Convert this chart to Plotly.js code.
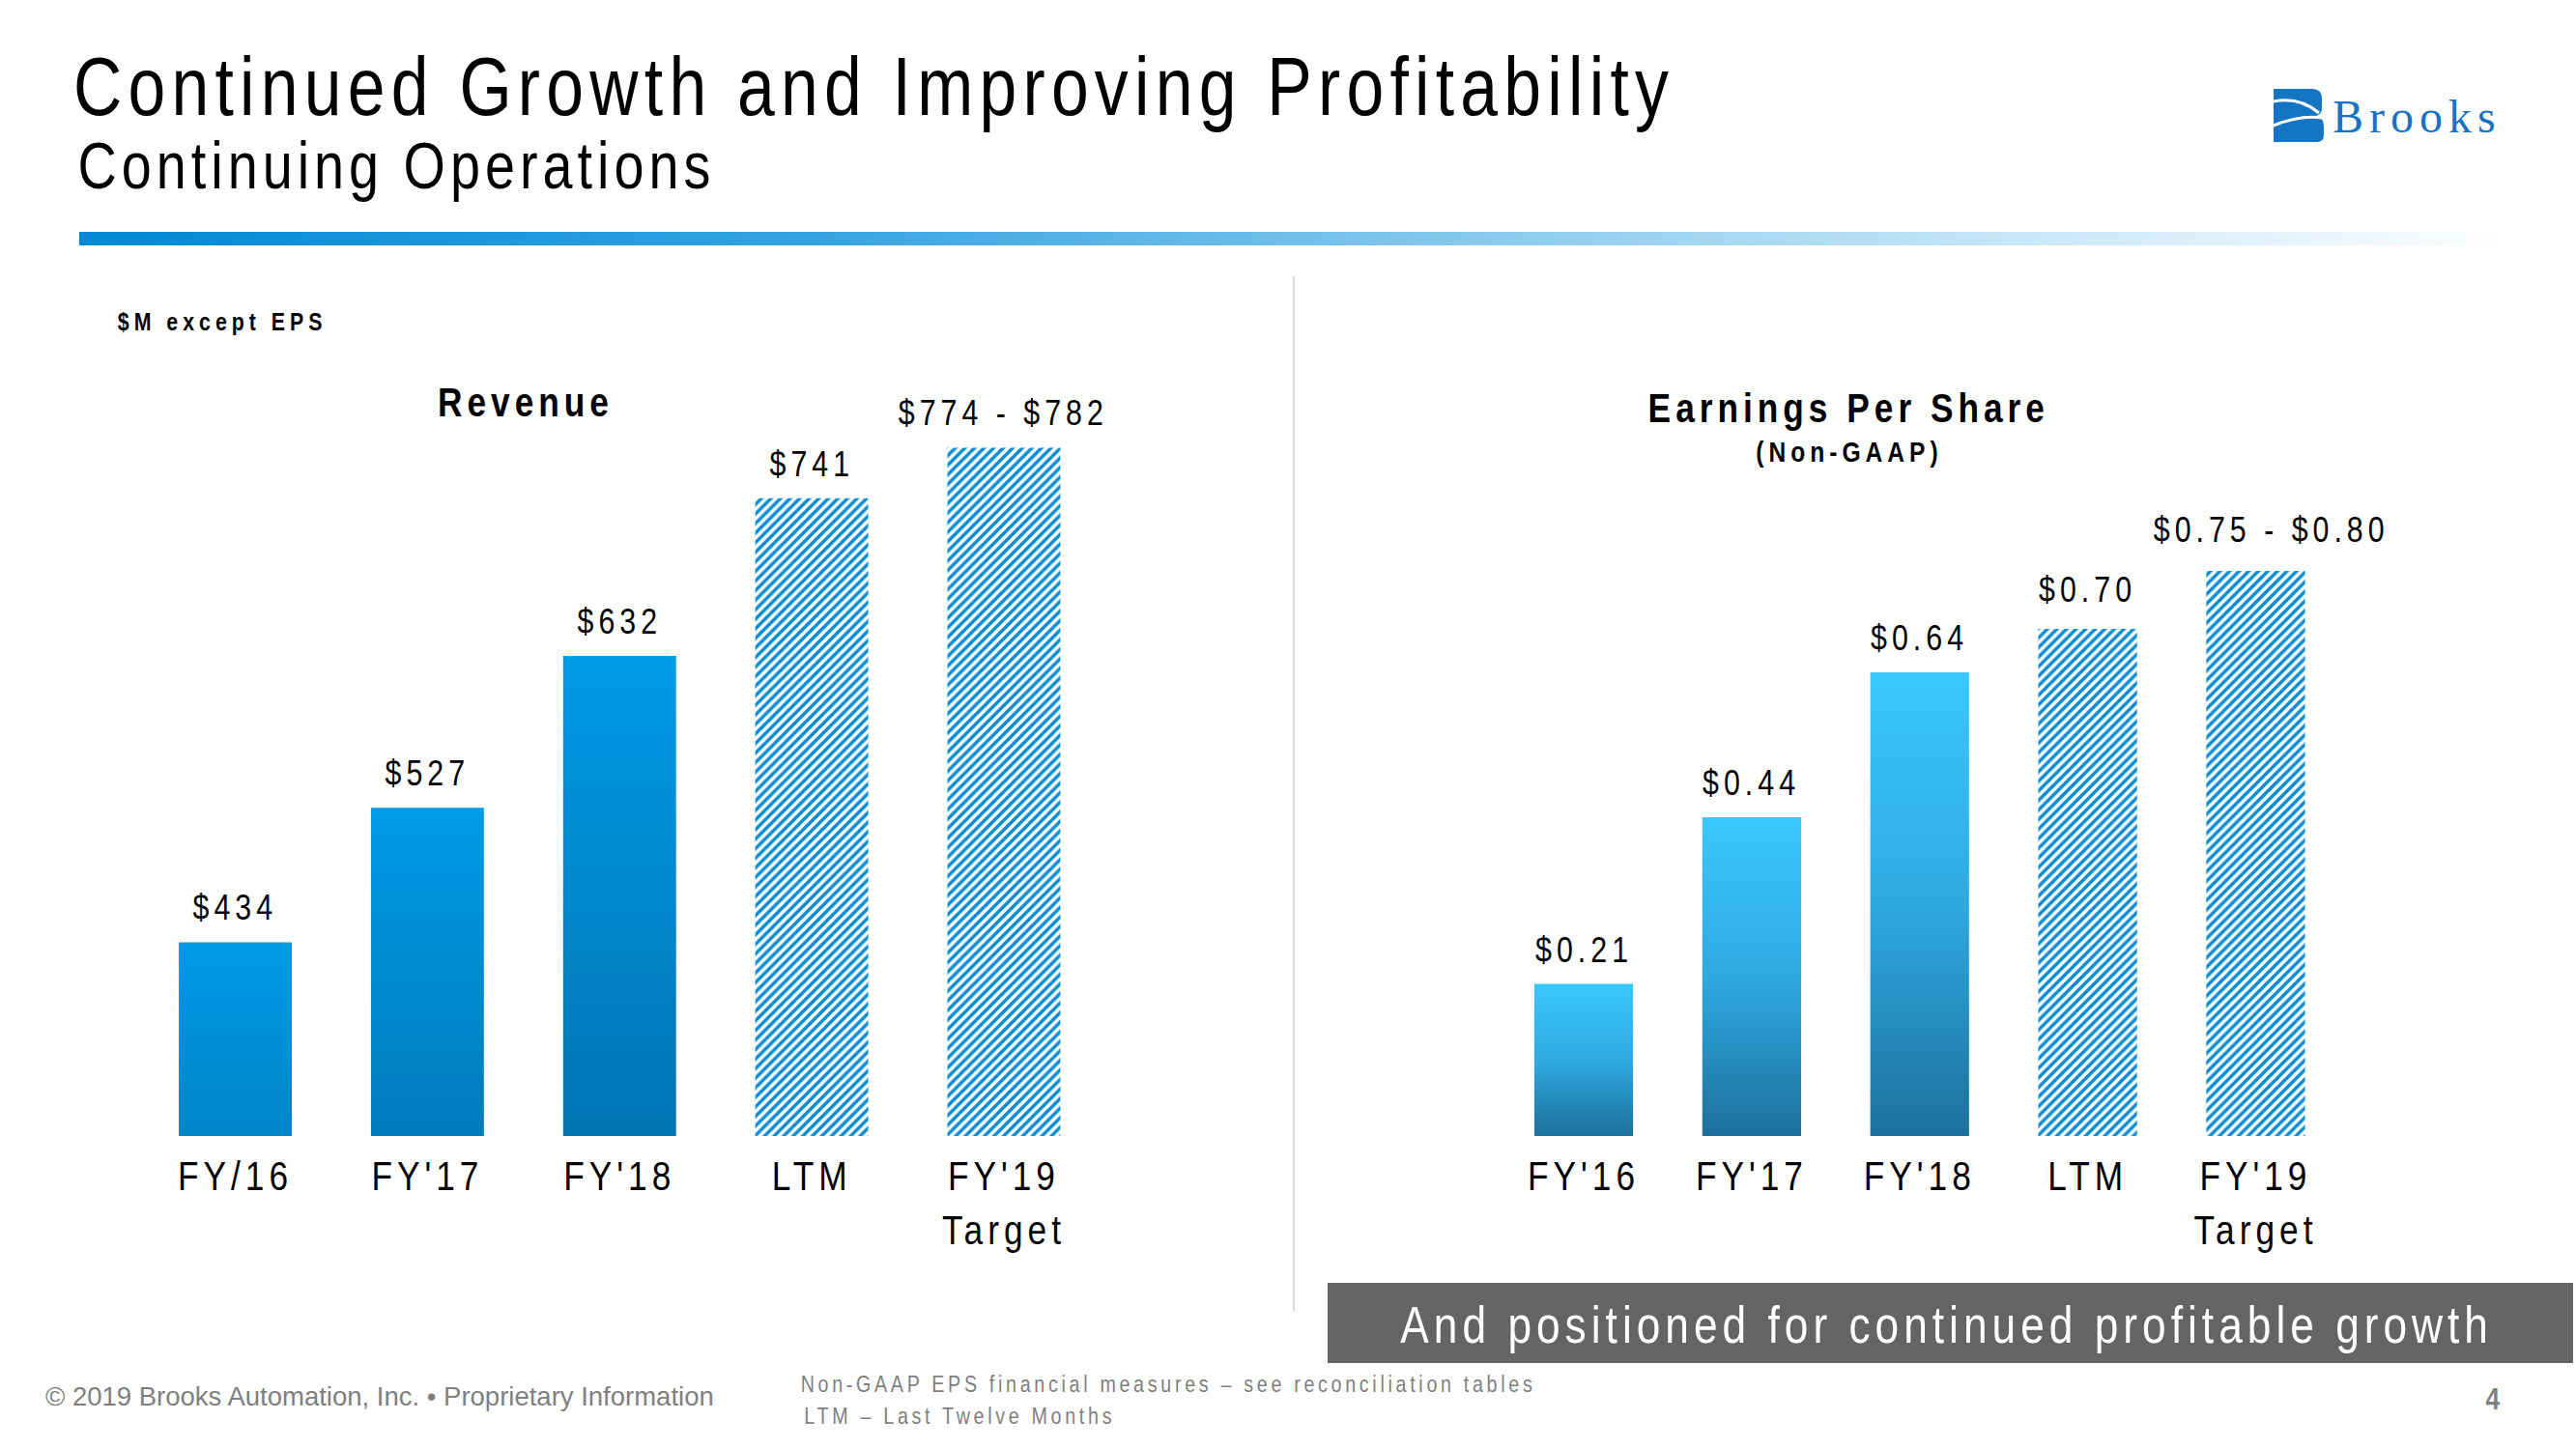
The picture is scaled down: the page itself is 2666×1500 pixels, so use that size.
<!DOCTYPE html>
<html>
<head>
<meta charset="utf-8">
<script src="https://cdn.plot.ly/plotly-3.0.1.min.js"></script>
<style>
  html, body { margin: 0; padding: 0; background: #ffffff; }
  #chart { width: 2666px; height: 1500px; }
</style>
</head>
<body>
<div id="chart"></div>
<script>
// ---------------- data ----------------
const revCats   = ['FY/16', "FY'17", "FY'18", 'LTM', "FY'19<br>Target"];
const revValues = [434, 527, 632, 741, 776];
const revLabels = ['$434', '$527', '$632', '$741', '$774 - $782'];

const epsCats   = ["FY'16", "FY'17", "FY'18", 'LTM', "FY'19<br>Target"];
const epsValues = [0.21, 0.44, 0.64, 0.70, 0.78];
const epsLabels = ['$0.21', '$0.44', '$0.64', '$0.70', '$0.75 - $0.80'];

const nActual = 3; // first three are reported years, the rest LTM / target (hatched)

// ---------------- layout constants (not data) ----------------
const epsLabelLift = [0, 0, 0, 5, 7];   // extra px above the bar for label
const epsLabelShift = [0, 0, 0, 0, 16]; // horizontal px offset for label

// ---------------- fonts ----------------
// "NarrowX" is a marker family name: the text falls back to Liberation Sans
// and is horizontally condensed after drawing (Arial Narrow look).
const FONT = "'Liberation Sans', NarrowX";
const REG = "'Liberation Sans'";
const SERIF = "'Liberation Serif'";
const K = 0.82;

const spacing = [[85, 7.6], [68, 6.1], [54, 6.1], [43, 6.1], [37, 6.1], [30, 6.1], [26, 6.1], [24, 4.5]];
let css = spacing.map(([s, l]) =>
  `text[style*="NarrowX"][style*="font-size: ${s}px"]{letter-spacing:${l}px;}`).join('\n');
css += '\ntext[style*="Serif"]{letter-spacing:6px;}';
const st = document.createElement('style'); st.textContent = css; document.head.appendChild(st);

// ---------------- geometry (page pixels) ----------------
const W = 2666, H = 1500;
const px = v => v / W;
const py = v => 1 - v / H;
const BASE = 1176;

// ---------------- traces ----------------
const hatch = { shape: '/', fgcolor: '#0A8CD2', bgcolor: '#FFFFFF', size: 7, solidity: 0.5 };

const traces = [
  { type: 'bar', x: revCats.slice(0, nActual), y: revValues.slice(0, nActual), xaxis: 'x', yaxis: 'y',
    marker: { color: '#0077B8', line: { width: 0 } }, hoverinfo: 'skip' },
  { type: 'bar', x: revCats.slice(nActual), y: revValues.slice(nActual), xaxis: 'x', yaxis: 'y',
    marker: { color: '#0A8CD2', pattern: hatch, line: { width: 0 } }, hoverinfo: 'skip' },
  { type: 'bar', x: epsCats.slice(0, nActual), y: epsValues.slice(0, nActual), xaxis: 'x2', yaxis: 'y2',
    marker: { color: '#2CA6DC', line: { width: 0 } }, hoverinfo: 'skip' },
  { type: 'bar', x: epsCats.slice(nActual), y: epsValues.slice(nActual), xaxis: 'x2', yaxis: 'y2',
    marker: { color: '#0A8CD2', pattern: hatch, line: { width: 0 } }, hoverinfo: 'skip' },
  { type: 'scatter', x: [], y: [], xaxis: 'x3', yaxis: 'y3', hoverinfo: 'skip' }
];

// ---------------- annotations ----------------
function txt(text, x, y, size, opts) {
  return Object.assign({
    xref: 'x3', yref: 'y3', x: x, y: y, text: text, showarrow: false,
    xanchor: 'center', yanchor: 'middle',
    font: { family: FONT, size: size, color: '#000000' }
  }, opts || {});
}

const annotations = [
  txt('Continued Growth and Improving Profitability', 904, 89.5, 85),
  txt('Continuing Operations', 410, 171, 68),
  txt('<b>$M except EPS</b>', 229.5, 333, 26),
  txt('<b>Revenue</b>', 544, 416, 43),
  txt('<b>Earnings Per Share</b>', 1913.5, 421.5, 43),
  txt('<b>(Non-GAAP)</b>', 1914, 467, 30),
  txt('And positioned for continued profitable growth', 2014, 1370.5, 54,
      { font: { family: FONT, size: 54, color: '#FFFFFF' } }),
  txt('© 2019 Brooks Automation, Inc. • Proprietary Information', 393, 1445, 27.5,
      { font: { family: REG, size: 27.5, color: '#7F7F7F' } }),
  txt('Non-GAAP EPS financial measures – see reconciliation tables', 1209, 1432, 24,
      { font: { family: FONT, size: 24, color: '#7F7F7F' } }),
  txt('LTM – Last Twelve Months', 993, 1465, 24,
      { font: { family: FONT, size: 24, color: '#7F7F7F' } }),
  txt('<b>4</b>', 2579.5, 1447.5, 32, { font: { family: FONT, size: 32, color: '#7F7F7F' } }),
  txt('Brooks', 2501, 120.5, 48, { font: { family: SERIF, size: 48, color: '#1A72C0' } })
];

revCats.forEach((c, i) => annotations.push({
  xref: 'x', yref: 'y', x: c, y: revValues[i], text: revLabels[i], showarrow: false,
  xanchor: 'center', yanchor: 'bottom', yshift: 13,
  font: { family: FONT, size: 37, color: '#000000' }
}));
epsCats.forEach((c, i) => annotations.push({
  xref: 'x2', yref: 'y2', x: c, y: epsValues[i], text: epsLabels[i], showarrow: false,
  xanchor: 'center', yanchor: 'bottom', yshift: 13 + epsLabelLift[i], xshift: epsLabelShift[i],
  font: { family: FONT, size: 37, color: '#000000' }
}));

// ---------------- shapes ----------------
const shapes = [
  { type: 'rect', xref: 'x3', yref: 'y3', x0: 82, x1: 2600, y0: 240, y1: 254,
    fillcolor: '#3FA6E0', line: { width: 0 } },
  { type: 'line', xref: 'x3', yref: 'y3', x0: 1339, x1: 1339, y0: 286, y1: 1357,
    line: { color: '#D9D9D9', width: 2 } },
  { type: 'rect', xref: 'x3', yref: 'y3', x0: 1374, x1: 2663, y0: 1328, y1: 1411,
    fillcolor: '#646464', line: { width: 0 } },
  { type: 'path', xref: 'x3', yref: 'y3',
    path: 'M 2353 92 L 2393 92 Q 2403 92 2403 102 L 2403 113 Q 2403 118 2397 120 Q 2405 122 2405 131 L 2405 140 Q 2405 147 2398 147 L 2353 147 Z',
    fillcolor: '#1475C4', line: { width: 0 } },
  { type: 'path', xref: 'x3', yref: 'y3', path: 'M 2353 105 Q 2380 100 2400 117',
    line: { color: '#FFFFFF', width: 3 } },
  { type: 'path', xref: 'x3', yref: 'y3', path: 'M 2353 130 Q 2380 119 2403 122',
    line: { color: '#FFFFFF', width: 3 } }
];

// ---------------- layout ----------------
const catAxis = (dom, anchor) => ({
  domain: dom, anchor: anchor, type: 'category', range: [-0.5, 4.5],
  showgrid: false, zeroline: false, showline: false, ticks: '', tickangle: 0,
  tickfont: { family: FONT, size: 43, color: '#000000' },
  ticklabelstandoff: 12, fixedrange: true
});

const layout = {
  width: W, height: H,
  margin: { l: 0, r: 0, t: 0, b: 0, pad: 0 },
  paper_bgcolor: '#FFFFFF', plot_bgcolor: 'rgba(0,0,0,0)',
  showlegend: false, hovermode: false,
  barmode: 'overlay', bargap: 0.412,
  xaxis: catAxis([px(144.1), px(1138.4)], 'y'),
  yaxis: { domain: [py(BASE), py(397.6)], range: [300, 820], visible: false, fixedrange: true },
  xaxis2: catAxis([px(1552.1), px(2421.4)], 'y2'),
  yaxis2: { domain: [py(BASE), py(426)], range: [0, 1], visible: false, fixedrange: true },
  xaxis3: { domain: [0, 1], range: [0, W], visible: false, anchor: 'y3', fixedrange: true },
  yaxis3: { domain: [0, 1], range: [H, 0], visible: false, anchor: 'x3', fixedrange: true },
  annotations: annotations,
  shapes: shapes
};

const gd = document.getElementById('chart');
Plotly.newPlot(gd, traces, layout, { staticPlot: true, displayModeBar: false, typesetMath: false })
.then(() => {
  const NS = 'http://www.w3.org/2000/svg';
  const svg = gd.querySelector('.main-svg');
  let defs = svg.querySelector('defs');
  if (!defs) { defs = document.createElementNS(NS, 'defs'); svg.insertBefore(defs, svg.firstChild); }
  function grad(id, stops, horizontal) {
    const g = document.createElementNS(NS, 'linearGradient');
    g.setAttribute('id', id);
    g.setAttribute('x1', '0'); g.setAttribute('y1', '0');
    g.setAttribute('x2', horizontal ? '1' : '0'); g.setAttribute('y2', horizontal ? '0' : '1');
    stops.forEach(([o, c]) => {
      const s = document.createElementNS(NS, 'stop');
      s.setAttribute('offset', o); s.setAttribute('stop-color', c);
      g.appendChild(s);
    });
    defs.appendChild(g);
  }
  grad('gRev', [[0, '#009AE6'], [0.5, '#0076B5'], [1, '#004E7C']]);
  grad('gEps', [[0, '#3AC8FD'], [0.5, '#2FA9E0'], [1, '#1D709C']]);
  grad('gRule', [[0, '#0088D4'], [0.3, '#35A3E0'], [0.68, '#A8D8F2'], [1, '#FFFFFF']], true);

  const revTrace = gd.querySelectorAll('.subplot.xy .barlayer .trace')[0];
  const epsTrace = gd.querySelectorAll('.subplot.x2y2 .barlayer .trace')[0];
  if (revTrace) revTrace.querySelectorAll('path').forEach(p => { p.style.fill = 'url(#gRev)'; });
  if (epsTrace) epsTrace.querySelectorAll('path').forEach(p => { p.style.fill = 'url(#gEps)'; });
  gd.querySelectorAll('.shapelayer path[data-index="0"]').forEach(p => { p.style.fill = 'url(#gRule)'; });

  // condense the "narrow" texts horizontally around their own centre
  gd.querySelectorAll('text').forEach(t => {
    const s = t.getAttribute('style') || '';
    if (s.indexOf('NarrowX') < 0) return;
    const bb = t.getBBox();
    const cx = bb.x + bb.width / 2;
    const tr = t.getAttribute('transform') || '';
    t.setAttribute('transform', tr + ' translate(' + cx + ',0) scale(' + K + ',1) translate(' + (-cx) + ',0)');
  });
});
</script>
</body>
</html>
